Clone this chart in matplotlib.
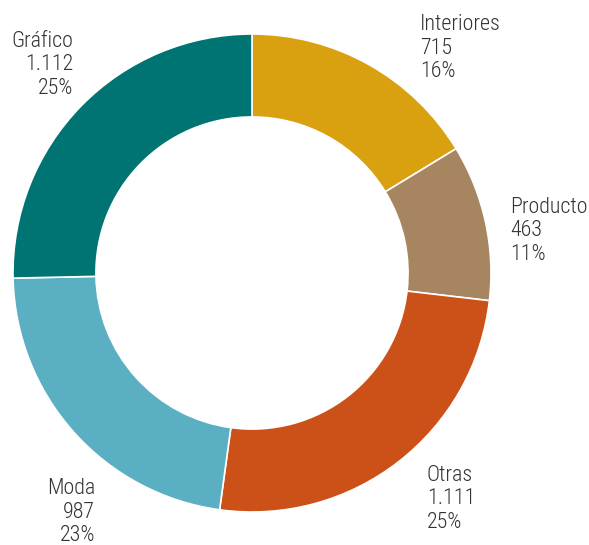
import matplotlib
matplotlib.use("Agg")
import matplotlib.pyplot as plt
from matplotlib import font_manager

categories = ["Interiores", "Producto", "Otras", "Moda", "Gráfico"]
values = [715, 463, 1111, 987, 1112]
value_labels = ["715", "463", "1.111", "987", "1.112"]
pct_labels = ["16%", "11%", "25%", "23%", "25%"]
colors = ["#D9A00F", "#A68560", "#CC5118", "#5AB0C2", "#007373"]

W, H = 589, 545
fig = plt.figure(figsize=(W / 100, H / 100), dpi=100)
ax = fig.add_axes([0, 0, 1, 1])

cx, cy, r = 252, H - 273, 239
ax.pie(values, colors=colors, startangle=90, counterclock=False,
       center=(cx, cy), radius=r, frame=True,
       wedgeprops=dict(width=r * 0.347, edgecolor="white", linewidth=1.2))
ax.set_xlim(0, W)
ax.set_ylim(0, H)
ax.set_aspect("equal")
ax.axis("off")

names = {f.name for f in font_manager.fontManager.ttflist}
fams = [f for f in ["Roboto Condensed", "Liberation Sans Narrow"] if f in names]
if fams:
    font = dict(family=fams + ["DejaVu Sans"], fontweight="light", fontsize=15.8, color="#333333")
else:
    font = dict(family=["Roboto", "DejaVu Sans"], fontweight="light", fontsize=14.5, color="#2a2a2a")

# label anchors: (x, first baseline y in image px, ha)
anchors = [(420, 30, "left"), (510, 213, "left"), (427, 481, "left"),
           (95, 494, "right"), (73, 47, "right")]
step = 23.5
for (x, y0, ha), name, v, p in zip(anchors, categories, value_labels, pct_labels):
    for i, t in enumerate([name, v, p]):
        ax.text(x, H - (y0 + i * step), t, ha=ha, va="baseline", **font)

fig.savefig("out.png", dpi=100)
